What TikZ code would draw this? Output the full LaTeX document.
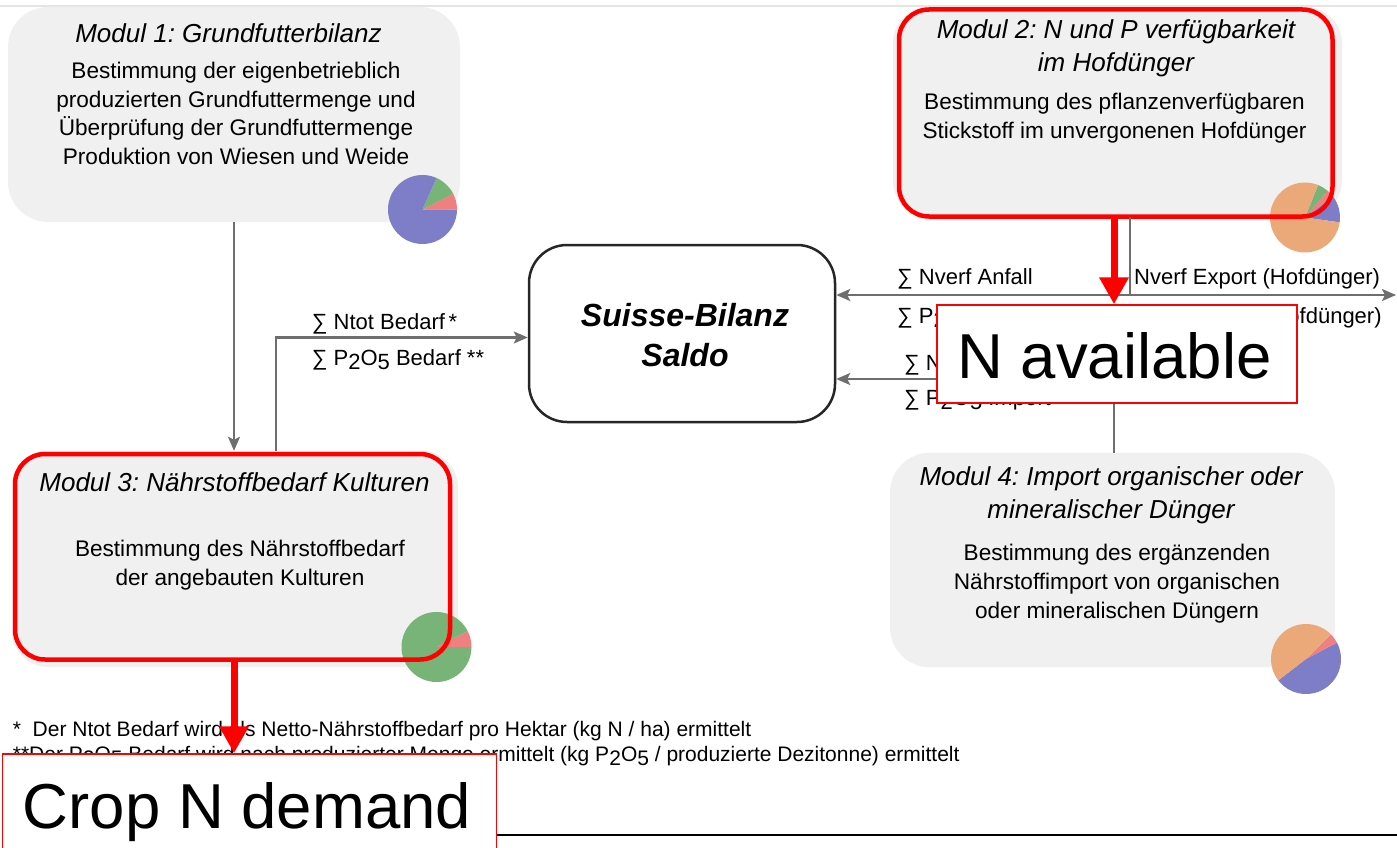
\documentclass[tikz,border=0pt]{standalone}
\usepackage{fontspec}
\setmainfont{Liberation Sans}
\usetikzlibrary{arrows.meta}
\frenchspacing

\definecolor{boxfill}{HTML}{F0F0F0}
\definecolor{flowgray}{HTML}{6E6E6E}
\definecolor{rulegray}{HTML}{E4E4E4}
\definecolor{pieblue}{HTML}{7E7EC8}
\definecolor{piegreen}{HTML}{78B378}
\definecolor{piered}{HTML}{F08080}
\definecolor{pieorange}{HTML}{EBA878}
\definecolor{hlred}{HTML}{FF0000}
\definecolor{saldoedge}{HTML}{262626}

% one wedge of a pie chart: centre, start angle, end angle, radius, colour
\newcommand\pieWedge[5]{\fill[#5] (#1) -- ++(#2:#4) arc[start angle=#2, end angle=#3, radius=#4] -- cycle;}
% chemical index set slightly below the baseline
\newcommand\lowidx[1]{\raisebox{-0.22em}{#1}}
\newcommand\PtwoOfive{P\lowidx{2}O\lowidx{5}}

% multi-line nodes are placed by the baseline of their last line
\tikzset{
  modbox/.style={rectangle, rounded corners=40pt, fill=boxfill, inner sep=0pt},
  hlframe/.style={rectangle, rounded corners=30pt, draw=hlred, line width=4.5pt, inner sep=0pt},
  modtitle/.style={anchor=base, align=center, inner sep=0pt, font=\fontsize{26}{33}\selectfont\itshape},
  modbody/.style={anchor=base, align=center, inner sep=0pt, font=\fontsize{22.6}{28.7}\selectfont},
  flowline/.style={draw=flowgray, line width=2.3pt},
  flow/.style={flowline, -{Stealth[length=14pt,width=12pt,inset=3pt]}},
  flowlabel/.style={anchor=base west, inner sep=0pt, font=\fontsize{22}{26}\selectfont},
  hlarrow/.style={draw=hlred, line width=7pt, -{Triangle[length=27pt,width=28pt]}},
  callout/.style={rectangle, draw=hlred, line width=1.5pt, fill=white, inner sep=0pt},
  callouttext/.style={anchor=base, inner sep=0pt, font=\fontsize{63.5}{70}\selectfont},
  footnote/.style={anchor=base west, inner sep=0pt, font=\fontsize{21}{25}\selectfont},
}

\begin{document}
\begin{tikzpicture}[x=1pt, y=-1pt]
\useasboundingbox (0,0) rectangle (1397,848);

% thin rule along the top
\coordinate (ruleL) at (0,6);
\coordinate (ruleR) at (1397,6);
\draw[rulegray, line width=1.5pt] (ruleL) -- (ruleR);

% module panels
\node[modbox, minimum width=452pt, minimum height=215pt] (mod1box) at (234,114.5) {};
\node[modbox, rounded corners=36pt, minimum width=449pt, minimum height=210pt] (mod2box) at (1117.5,112) {};
\node[modbox, rounded corners=36pt, minimum width=446pt, minimum height=216pt] (mod3box) at (235,559) {};
\node[modbox, minimum width=445pt, minimum height=214.6pt] (mod4box) at (1112.5,560) {};

% pie charts
\coordinate (pieA) at (422.5,209.5);
\pieWedge{pieA}{0}{-27}{34.5}{piered}
\pieWedge{pieA}{-27}{-66}{34.5}{piegreen}
\pieWedge{pieA}{-66}{-360}{34.5}{pieblue}

\coordinate (pieB) at (1305,217.5);
\pieWedge{pieB}{8}{-37}{35}{pieblue}
\pieWedge{pieB}{-37}{-50}{35}{piered}
\pieWedge{pieB}{-50}{-68}{35}{piegreen}
\pieWedge{pieB}{-68}{-352}{35}{pieorange}

\coordinate (pieC) at (436.5,647);
\pieWedge{pieC}{0}{-27}{35}{piered}
\pieWedge{pieC}{-27}{-360}{35}{piegreen}

\coordinate (pieD) at (1306,659);
\pieWedge{pieD}{142.5}{-28}{35}{pieblue}
\pieWedge{pieD}{-28}{-45}{35}{piered}
\pieWedge{pieD}{-45}{-217.5}{35}{pieorange}

% highlight frames
\node[hlframe, minimum width=433.5pt, minimum height=207pt] (mod2frame) at (1115.75,113) {};
\node[hlframe, minimum width=435pt, minimum height=205.5pt] (mod3frame) at (232.5,556.75) {};

% module texts
\node[modtitle] (mod1title) at (228.5,42.3) {Modul 1: Grundfutterbilanz};
\node[modbody] (mod1text) at (236,164.5) {Bestimmung der eigenbetrieblich\\produzierten Grundfuttermenge und\\Überprüfung der Grundfuttermenge\\Produktion von Wiesen und Weide};

\node[modtitle] (mod2title) at (1116,72) {Modul 2: N und P verfügbarkeit\\im Hofdünger};
\node[modbody] (mod2text) at (1114.5,138.5) {Bestimmung des pflanzenverfügbaren\\Stickstoff im unvergonenen Hofdünger};

\node[modtitle] (mod3title) at (234.5,491.7) {Modul 3: Nährstoffbedarf Kulturen};
\node[modbody] (mod3text) at (240,585) {Bestimmung des Nährstoffbedarf\\der angebauten Kulturen};

\node[modtitle] (mod4title) at (1111,518) {Modul 4: Import organischer oder\\mineralischer Dünger};
\node[modbody] (mod4text) at (1117,618) {Bestimmung des ergänzenden\\Nährstoffimport von organischen\\oder mineralischen Düngern};

% balance box
\node[rectangle, rounded corners=38pt, draw=saldoedge, line width=2.5pt, fill=white,
      minimum width=306pt, minimum height=177pt, inner sep=0pt] (saldo) at (682,333.5) {};
\node[anchor=base, align=center, inner sep=0pt, font=\fontsize{32}{40}\selectfont\bfseries\itshape]
      (saldotext) at (685,366) {Suisse-Bilanz\\Saldo};

% flows
\coordinate (m3out) at (276,0);
\coordinate (split) at (1130,295);
\coordinate (exportEnd) at (1396,295);
\coordinate (m4out) at (1114,379);

\draw[flow] (mod1box.south) -- (mod1box.south |- mod3box.north);
\draw[flow] (mod3box.north -| m3out) |- ([yshift=-4pt]saldo.west);
\draw[flowline] (mod2box.south -| split) -- (split);
\draw[flow] (split) -- (saldo.east |- split);
\draw[flow] (split) -- (exportEnd);
\draw[flow] (mod4box.north -| m4out) -- (m4out) -- (saldo.east |- m4out);

% flow labels
\node[flowlabel] (lblNtot) at (311.7,329) {∑ Ntot Bedarf\,*};
\node[flowlabel] (lblPdem) at (311.7,365) {∑ \PtwoOfive{} Bedarf **};
\node[flowlabel] (lblNanf) at (897,284.3) {∑ Nverf Anfall};
\node[flowlabel] (lblPanf) at (897,323) {∑ \PtwoOfive{} Anfall};
\node[flowlabel] (lblNexp) at (1134,284.3) {Nverf Export (Hofdünger)};
\node[flowlabel] (lblPexp) at (1132,323) {\PtwoOfive{} Export (Hofdünger)};
\node[flowlabel] (lblNimp) at (904,370) {∑ Nverf Import};
\node[flowlabel] (lblPimp) at (904,405) {∑ \PtwoOfive{} Import};

% footnotes
\node[footnote] (fn1) at (12.7,736.7) {*\ \ Der Ntot Bedarf wird als Netto-Nährstoffbedarf pro Hektar (kg N / ha) ermittelt};
\node[footnote] (fn2) at (12.7,761) {**Der \PtwoOfive{} Bedarf wird nach produzierter Menge ermittelt (kg \PtwoOfive{} / produzierte Dezitonne) ermittelt};

% call-outs
\node[callout, minimum width=360pt, minimum height=98pt] (navail) at (1117,354) {};
\node[callouttext] (navailtext) at (1114.5,378) {N available};
\node[callout, minimum width=494pt, minimum height=99pt] (cropdemand) at (249.5,803.5) {};
\node[callouttext] (cropdemandtext) at (247,828) {Crop N demand};

\coordinate (redA) at (1114,0);
\coordinate (redB) at (234,0);
\draw[hlarrow] (mod2frame.south -| redA) -- (navail.north -| redA);
\draw[hlarrow] (mod3frame.south -| redB) -- (cropdemand.north -| redB);

% rule along the bottom
\coordinate (baseL) at (497,835);
\coordinate (baseR) at (1397,835);
\draw[black, line width=2.5pt] (baseL) -- (baseR);
\end{tikzpicture}
\end{document}
